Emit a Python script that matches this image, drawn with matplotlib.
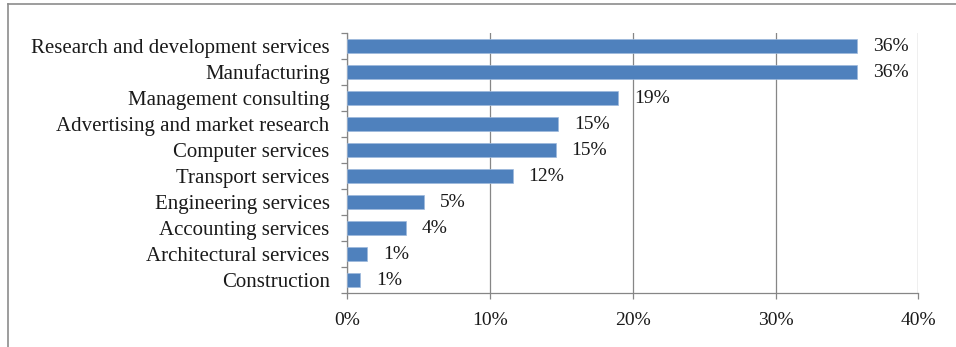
import matplotlib
matplotlib.use("Agg")
import matplotlib.pyplot as plt
from matplotlib.lines import Line2D
from matplotlib.ticker import FixedLocator, FuncFormatter
from decimal import Decimal, ROUND_HALF_UP

categories = [
    "Research and development services",
    "Manufacturing",
    "Management consulting",
    "Advertising and market research",
    "Computer services",
    "Transport services",
    "Engineering services",
    "Accounting services",
    "Architectural services",
    "Construction",
]
shares = [35.7, 35.7, 19.0, 14.8, 14.6, 11.6, 5.4, 4.1, 1.4, 0.9]
x_ticks = [0, 10, 20, 30, 40]

plt.rcParams["font.family"] = ["Liberation Serif", "DejaVu Serif"]
GRAY = "#868686"
BAR = "#4F81BD"

fig = plt.figure(figsize=(9.56, 3.47), dpi=100)
ax = fig.add_axes([0.363, 0.1556, 0.5976, 0.7493])

pos = list(range(len(categories)))
ax.barh(pos, shares, height=0.54, color=BAR, edgecolor="#9DB9DC", linewidth=0.5, zorder=3)

for y, v in zip(pos, shares):
    txt = str(Decimal(str(v)).quantize(Decimal("1"), rounding=ROUND_HALF_UP)) + "%"
    ax.annotate(txt, (v, y), xytext=(16, 0), textcoords="offset pixels",
                ha="left", va="center", fontsize=14, color="#1a1a1a")

ax.set_xlim(0, 40)
ax.set_ylim(len(categories) - 0.5, -0.5)
ax.set_xticks(x_ticks)
ax.xaxis.set_major_formatter(FuncFormatter(lambda v, _: f"{v:.0f}%"))
ax.grid(axis="x", color=GRAY, linewidth=0.9, zorder=0)

ax.set_yticks(pos)
ax.set_yticklabels(categories, fontsize=15, color="#1a1a1a")
ax.yaxis.set_minor_locator(FixedLocator([p - 0.5 for p in pos] + [len(pos) - 0.5]))
ax.tick_params(axis="y", which="major", length=0, pad=12.5)
ax.tick_params(axis="y", which="minor", length=4.5, width=0.9, color=GRAY)
ax.tick_params(axis="x", length=4.5, width=0.9, color=GRAY, pad=9, labelsize=14,
               labelcolor="#1a1a1a")

for s in ("top", "right"):
    ax.spines[s].set_visible(False)
for s in ("left", "bottom"):
    ax.spines[s].set_color(GRAY)
    ax.spines[s].set_linewidth(0.9)

# outer frame on left and top edges
fig.add_artist(Line2D([8 / 956, 8 / 956], [0, 1 - 4 / 347], transform=fig.transFigure,
                      color="#8c8c8c", linewidth=1.2))
fig.add_artist(Line2D([8 / 956, 1], [1 - 4 / 347, 1 - 4 / 347], transform=fig.transFigure,
                      color="#8c8c8c", linewidth=1.2))

fig.savefig("out.png", dpi=100)
